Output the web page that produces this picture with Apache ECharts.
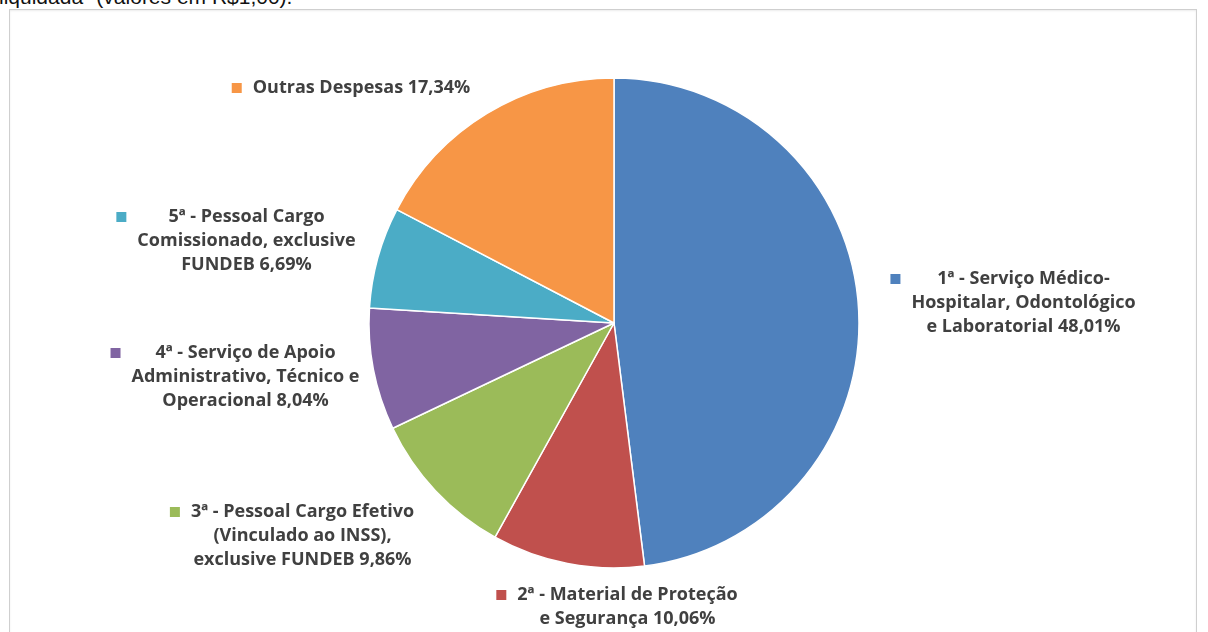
<!DOCTYPE html>
<html>
<head>
<meta charset="utf-8">
<script src="https://cdn.jsdelivr.net/npm/echarts@6/dist/echarts.min.js"></script>
<style>
html,body{margin:0;padding:0;background:#fff;overflow:hidden;width:1208px;height:632px;}
#caption{position:absolute;left:-1px;top:-14px;font:21px "Liberation Sans",Arial,sans-serif;line-height:21px;color:#111;white-space:nowrap;}
#frame{position:absolute;left:9px;top:9px;width:1186px;height:640px;border:1px solid #cfcfcf;box-shadow:inset 0 1px 2px rgba(0,0,0,0.08);}
#chart{position:absolute;left:0;top:0;width:1208px;height:632px;}
</style>
</head>
<body>
<div id="caption">liquidada" (valores em R$1,00).</div>
<div id="frame"></div>
<div id="chart"></div>
<script>
// ---- data ----
const categories = [
  '1ª - Serviço Médico-\nHospitalar, Odontológico\ne Laboratorial',
  '2ª - Material de Proteção\ne Segurança',
  '3ª - Pessoal Cargo Efetivo\n(Vinculado ao INSS),\nexclusive FUNDEB',
  '4ª - Serviço de Apoio\nAdministrativo, Técnico e\nOperacional',
  '5ª - Pessoal Cargo\nComissionado, exclusive\nFUNDEB',
  'Outras Despesas'
];
const values = [48.01, 10.06, 9.86, 8.04, 6.69, 17.34];

// ---- style / layout ----
const colors = ['#4F81BD', '#C0504D', '#9BBB59', '#8064A2', '#4BACC6', '#F79646'];
const CX = 614, CY = 323, R = 245;
// label block centre offsets from the pie centre
const labelOffsets = [
  [399, -20],
  [3, 284],
  [-322, 213],
  [-379, 54],
  [-378, -82],
  [-263, -235]
];

const rich = {
  g: { width: 11, height: 10, align: 'left', lineHeight: 24 },
  s: { width: 21, height: 10, align: 'left', lineHeight: 24 },
  t: { align: 'center', fontFamily: '"Open Sans", sans-serif', fontWeight: 'bold', fontSize: 18, color: '#404040', lineHeight: 24 }
};
colors.forEach((c, i) => {
  rich['m' + i] = { width: 10, height: 10, backgroundColor: c, align: 'left', lineHeight: 24 };
});

const fmtPct = v => v.toFixed(2).replace('.', ',') + '%';

const chart = echarts.init(document.getElementById('chart'), null, { renderer: 'canvas' });
chart.setOption({
  animation: false,
  color: colors,
  series: [{
    type: 'pie',
    center: [CX, CY],
    radius: R,
    startAngle: 90,
    clockwise: true,
    avoidLabelOverlap: false,
    emphasis: { disabled: true },
    itemStyle: { borderColor: '#ffffff', borderWidth: 1.5 },
    labelLine: { show: false },
    label: {
      show: true,
      position: 'outside',
      fontFamily: '"Open Sans", sans-serif',
      fontWeight: 'bold',
      fontSize: 18,
      color: '#404040',
      lineHeight: 24,
      formatter: p => {
        const lines = (p.name + ' ' + fmtPct(p.value)).split('\n');
        return lines.map((l, i) => (i === 0 ? '{m' + p.dataIndex + '|}{g|}' : '{s|}') + '{t|' + l + '}').join('\n');
      },
      rich: rich
    },
    labelLayout: params => {
      const o = labelOffsets[params.dataIndex];
      return { x: CX + o[0], y: CY + o[1], align: 'center', verticalAlign: 'middle' };
    },
    data: categories.map((name, i) => ({ name: name, value: values[i] }))
  }]
});
</script>
</body>
</html>
